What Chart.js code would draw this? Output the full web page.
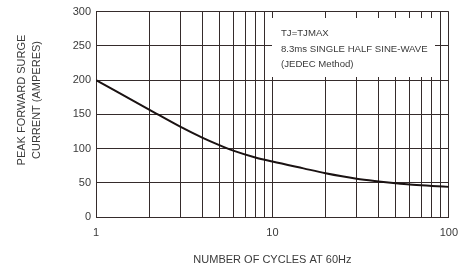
<!DOCTYPE html>
<html><head><meta charset="utf-8">
<script src="https://cdn.jsdelivr.net/npm/chart.js@4/dist/chart.umd.min.js"></script>
<style>html,body{margin:0;padding:0;background:#fff}#wrap{width:467px;height:270px}</style>
</head><body><div id="wrap"><canvas id="c" width="467" height="270"></canvas></div>
<script>
const cycles = [1, 2, 3, 4, 5, 6, 8, 10, 15, 20, 30, 40, 50, 60, 80, 100];
const current = [200, 157, 132, 116, 105, 97, 87, 81, 71, 64, 56, 52, 49.3, 47.4, 45.4, 44];
const xTicks = [1, 2, 3, 4, 5, 6, 7, 8, 9, 10, 20, 30, 40, 50, 60, 70, 80, 90, 100];
const xLabelTicks = [1, 10, 100];
const yTicks = [0, 50, 100, 150, 200, 250, 300];
const noteLines = ['TJ=TJMAX', '8.3ms SINGLE HALF SINE-WAVE', '(JEDEC Method)'];
const yTitle = ['PEAK FORWARD SURGE', 'CURRENT (AMPERES)'];
const xTitle = 'NUMBER OF CYCLES AT 60Hz';

const FONT = '"Liberation Sans", Arial, sans-serif';
const TXT = '#3a3a3a';
const GRID = '#352b2b';

const overlay = {
  id: 'overlay',
  afterDatasetsDraw(chart) {
    const ctx = chart.ctx;
    ctx.save();
    ctx.fillStyle = '#fff';
    ctx.fillRect(272, 18, 163, 59);
    ctx.fillStyle = TXT;
    ctx.font = '9.6px ' + FONT;
    ctx.textBaseline = 'middle';
    ctx.textAlign = 'left';
    const ys = [33, 49, 64];
    noteLines.forEach((t, i) => ctx.fillText(t, 281, ys[i]));
    ctx.font = '11px ' + FONT;
    ctx.textAlign = 'center';
    const xs = [22, 37];
    yTitle.forEach((t, i) => {
      ctx.save();
      ctx.translate(xs[i], 100);
      ctx.rotate(-Math.PI / 2);
      ctx.fillText(t, 0, 0);
      ctx.restore();
    });
    ctx.restore();
  }
};

new Chart(document.getElementById('c'), {
  type: 'line',
  data: {
    datasets: [{
      data: cycles.map((c, i) => ({ x: c, y: current[i] })),
      borderColor: '#1a1212',
      borderWidth: 2,
      pointRadius: 0,
      cubicInterpolationMode: 'monotone',
      fill: false
    }]
  },
  options: {
    responsive: false,
    animation: false,
    devicePixelRatio: 1,
    layout: { padding: { top: 10, right: 17, left: 0, bottom: 0 } },
    plugins: { legend: { display: false }, tooltip: { enabled: false } },
    scales: {
      x: {
        type: 'logarithmic',
        min: 1, max: 100,
        afterBuildTicks: s => { s.ticks = xTicks.map(v => ({ value: v })); },
        afterFit: s => { s.height = 53; },
        ticks: {
          autoSkip: false, maxRotation: 0, padding: 9,
          font: { size: 11, family: FONT }, color: TXT,
          callback: v => xLabelTicks.includes(v) ? String(v) : ''
        },
        grid: { color: GRID, drawTicks: false },
        border: { color: GRID },
        title: { display: true, text: xTitle, color: TXT, font: { size: 11, family: FONT }, padding: { top: 0, bottom: 3 } }
      },
      y: {
        min: 0, max: 300,
        afterBuildTicks: s => { s.ticks = yTicks.map(v => ({ value: v })); },
        afterFit: s => { s.width = 96; },
        ticks: { padding: 5, font: { size: 11, family: FONT }, color: TXT },
        grid: { color: GRID, drawTicks: false },
        border: { color: GRID }
      }
    }
  },
  plugins: [overlay]
});
</script>
</body></html>
